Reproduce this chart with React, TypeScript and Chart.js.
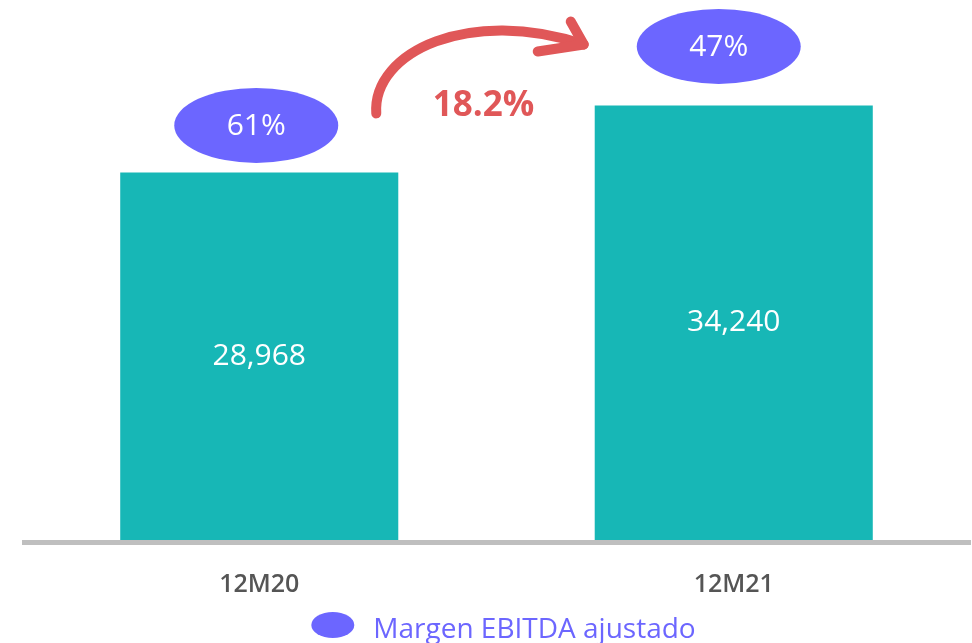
import React, { useEffect, useRef } from "react";
import { Chart, registerables } from "chart.js";

Chart.register(...registerables);

const categories = ["12M20", "12M21"];
const ebitdaValues = [28968, 34240];
const marginLabels = ["61%", "47%"];
const growthLabel = "18.2%";
const legendLabel = "Margen EBITDA ajustado";

const TEAL = "#17B7B6";
const PURPLE = "#6C66FF";
const RED = "#E05758";
const FONT = "'Open Sans', 'DejaVu Sans', sans-serif";

// layout offsets of the margin ellipses relative to each bar top-centre
const ELLIPSE_OFFSETS = [
  { dx: -3, dy: -47 },
  { dx: -15, dy: -59 },
];

const overlayPlugin = {
  id: "overlay",
  afterDatasetsDraw(chart: any) {
    const ctx = chart.ctx as CanvasRenderingContext2D;
    const area = chart.chartArea;
    const meta = chart.getDatasetMeta(0);
    const bars = meta.data as any[];
    ctx.save();

    // axis line
    ctx.fillStyle = "#BFBFBF";
    ctx.fillRect(area.left, area.bottom, area.right - area.left, 5);

    // value labels inside bars
    ctx.fillStyle = "#FFFFFF";
    ctx.font = `400 30px ${FONT}`;
    ctx.textAlign = "center";
    ctx.textBaseline = "middle";
    bars.forEach((bar, i) => {
      const cy = (bar.y + bar.base) / 2;
      ctx.fillText(ebitdaValues[i].toLocaleString("en-US"), bar.x, cy);
    });

    // margin ellipses
    bars.forEach((bar, i) => {
      const off = ELLIPSE_OFFSETS[i];
      const cx = bar.x + off.dx;
      const cy = bar.y + off.dy;
      ctx.beginPath();
      ctx.ellipse(cx, cy, 82, 37.5, 0, 0, Math.PI * 2);
      ctx.fillStyle = PURPLE;
      ctx.fill();
      ctx.fillStyle = "#FFFFFF";
      ctx.font = `400 30px ${FONT}`;
      ctx.fillText(marginLabels[i], cx, cy + 1);
    });

    // growth arrow
    if (bars.length > 1) {
      const b1 = bars[0];
      const b2 = bars[1];
      const gx0 = b1.x + b1.width / 2;
      const gx1 = b2.x - b2.width / 2;
      const S = { x: gx0 - 22, y: b1.y - 59 };
      const E = { x: gx1 - 11, y: b2.y - 61 };
      ctx.strokeStyle = RED;
      ctx.lineWidth = 10;
      ctx.lineCap = "round";
      ctx.lineJoin = "round";
      ctx.beginPath();
      ctx.moveTo(S.x, S.y);
      ctx.bezierCurveTo(S.x - 4, S.y - 62, S.x + 94, E.y - 38, E.x, E.y);
      ctx.stroke();
      ctx.beginPath();
      ctx.moveTo(E.x - 13, E.y - 23);
      ctx.lineTo(E.x, E.y);
      ctx.lineTo(E.x - 46, E.y + 7);
      ctx.stroke();

      ctx.fillStyle = RED;
      ctx.font = `700 35px ${FONT}`;
      ctx.textAlign = "center";
      ctx.textBaseline = "middle";
      ctx.fillText(growthLabel, (gx0 + gx1) / 2 - 13, b2.y + 1);
    }

    // legend
    const lx = (area.left + area.right) / 2 + 7;
    ctx.font = `400 28px ${FONT}`;
    const tw = ctx.measureText(legendLabel).width;
    const total = 43 + 19 + tw;
    const x0 = lx - total / 2;
    const ly = chart.height - 18;
    ctx.beginPath();
    ctx.ellipse(x0 + 21.5, ly, 21.5, 13, 0, 0, Math.PI * 2);
    ctx.fillStyle = PURPLE;
    ctx.fill();
    ctx.textAlign = "left";
    ctx.textBaseline = "alphabetic";
    ctx.fillText(legendLabel, x0 + 62, ly + 13);

    ctx.restore();
  },
};

export default function App() {
  const ref = useRef<HTMLCanvasElement | null>(null);
  useEffect(() => {
    if (!ref.current) return;
    const chart = new Chart(ref.current, {
      type: "bar",
      data: {
        labels: categories,
        datasets: [
          {
            label: "EBITDA",
            data: ebitdaValues,
            backgroundColor: TEAL,
            borderWidth: 0,
            categoryPercentage: 1,
            barPercentage: 0.586,
          },
        ],
      },
      options: {
        responsive: false,
        animation: false,
        layout: { padding: { left: 22, right: 1, top: 7, bottom: 13 } },
        plugins: { legend: { display: false }, tooltip: { enabled: false } },
        scales: {
          x: {
            grid: { display: false, drawTicks: false },
            border: { display: false },
            ticks: {
              color: "#555555",
              font: { family: FONT, size: 25, weight: 600 as any, lineHeight: 1.2 },
              padding: 30,
            },
          },
          y: {
            display: false,
            min: 0,
            max: 42000,
          },
        },
      },
      plugins: [overlayPlugin],
    });
    return () => chart.destroy();
  }, []);
  return (
    <div style={{ position: "fixed", left: 0, top: 0, width: 972, height: 643, background: "#fff" }}>
      <canvas ref={ref} width={972} height={643} />
    </div>
  );
}
